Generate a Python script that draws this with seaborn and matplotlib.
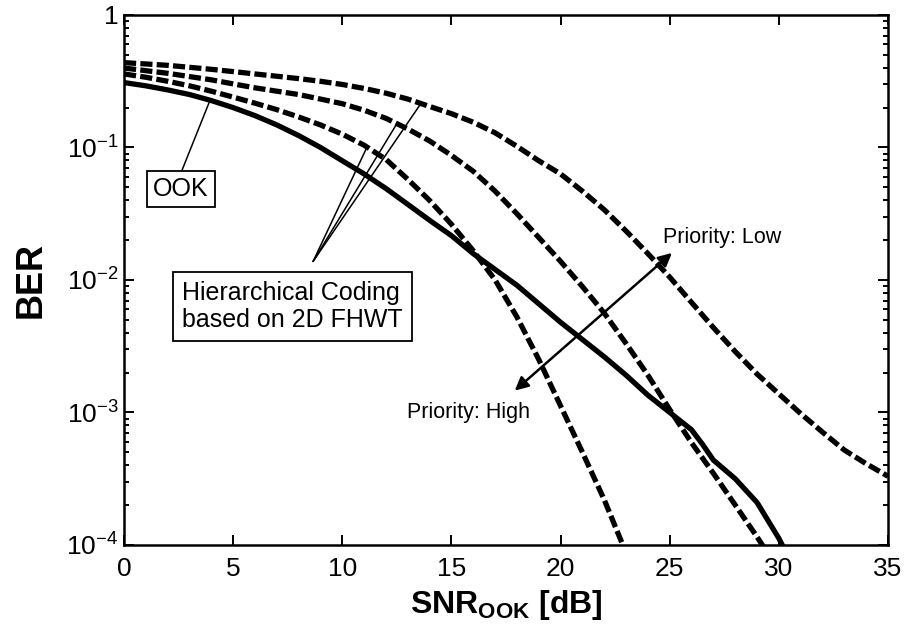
import numpy as np
import pandas as pd
import matplotlib
matplotlib.use("Agg")
import matplotlib.pyplot as plt
import seaborn as sns
from matplotlib.ticker import LogLocator, NullLocator

# ---- data: BER versus SNR_OOK ----
# uncoded OOK (solid)
ook_snr = [0, 1, 2, 3, 4, 5, 6, 7, 8, 9, 10, 11, 12, 13, 14, 15, 16, 17, 18,
           19, 20, 21, 22, 23, 24, 25, 26, 26.5, 27, 28, 29, 30, 30.4]
ook_ber = [0.309, 0.292, 0.272, 0.251, 0.226, 0.200, 0.174, 0.148, 0.123,
           0.100, 0.0794, 0.0631, 0.0490, 0.0372, 0.0282, 0.0216, 0.0158,
           0.0120, 0.00912, 0.00661, 0.00479, 0.00355, 0.00263, 0.00191,
           0.00135, 0.00100, 7.4e-4, 5.75e-4, 4.37e-4, 3.16e-4, 2.09e-4,
           1.12e-4, 8.3e-5]

# hierarchical coding, high priority layer
high_snr = [0, 1, 2, 3, 4, 5, 6, 7, 8, 9, 10, 11, 12, 13, 14, 15, 16, 17, 18,
            19, 20, 21, 22, 22.5, 23]
high_ber = [0.359, 0.339, 0.316, 0.292, 0.266, 0.240, 0.216, 0.193, 0.170,
            0.148, 0.126, 0.104, 0.0813, 0.0575, 0.0398, 0.0263, 0.0166,
            0.0100, 0.00525, 0.00251, 0.00112, 5.0e-4, 2.19e-4, 1.38e-4,
            8.7e-5]

# hierarchical coding, middle priority layer
mid_snr = [0, 1, 2, 3, 4, 5, 6, 7, 8, 9, 10, 11, 12, 13, 14, 15, 16, 17, 18,
           19, 20, 21, 22, 23, 24, 25, 26, 27, 28, 29, 29.4]
mid_ber = [0.398, 0.380, 0.363, 0.343, 0.324, 0.302, 0.282, 0.266, 0.251,
           0.232, 0.214, 0.191, 0.166, 0.138, 0.112, 0.0871, 0.0661, 0.0468,
           0.0316, 0.0209, 0.0138, 0.00891, 0.00562, 0.00331, 0.00191,
           0.00105, 5.9e-4, 3.47e-4, 2.0e-4, 1.15e-4, 9.1e-5]

# hierarchical coding, low priority layer
low_snr = [0, 1, 2, 3, 4, 5, 6, 7, 8, 9, 10, 11, 12, 13, 14, 15, 16, 17, 18,
           19, 20, 21, 22, 23, 24, 25, 26, 27, 28, 29, 30, 31, 32, 33, 34, 35]
low_ber = [0.437, 0.427, 0.417, 0.403, 0.389, 0.374, 0.359, 0.345, 0.331,
           0.316, 0.299, 0.279, 0.257, 0.232, 0.204, 0.180, 0.155, 0.129,
           0.102, 0.0794, 0.0631, 0.0468, 0.0339, 0.0234, 0.0158, 0.0105,
           0.00676, 0.00437, 0.00288, 0.00195, 0.00138, 9.8e-4, 7.1e-4,
           5.2e-4, 4.1e-4, 3.3e-4]

x_ticks = [0, 5, 10, 15, 20, 25, 30, 35]
y_ticks = [1e-4, 1e-3, 1e-2, 1e-1, 1]
y_tick_labels = [r"$10^{-4}$", r"$10^{-3}$", r"$10^{-2}$", r"$10^{-1}$", "1"]

sns.set_style("ticks")
plt.rcParams.update({
    "font.family": ["Liberation Sans", "DejaVu Sans"],
    "mathtext.fontset": "custom",
    "mathtext.rm": "Liberation Sans",
    "mathtext.it": "Liberation Sans:italic",
    "mathtext.bf": "Liberation Sans:bold",
    "mathtext.sf": "Liberation Sans",
    "axes.linewidth": 1.8,
    "axes.edgecolor": "black",
    "text.color": "black",
    "axes.labelcolor": "black",
    "xtick.color": "black",
    "ytick.color": "black",
})

fig = plt.figure(figsize=(9.10, 6.41), dpi=100)
ax = fig.add_axes([0.1363, 0.1498, 0.8396, 0.8268])

LW = 3.8
dash = (0, (2.3, 0.8))

curves = [
    ("OOK", ook_snr, ook_ber, "-"),
    ("High", high_snr, high_ber, dash),
    ("Mid", mid_snr, mid_ber, dash),
    ("Low", low_snr, low_ber, dash),
]
for name, xs, ys, ls in curves:
    df = pd.DataFrame({"snr": xs, "ber": ys})
    sns.lineplot(data=df, x="snr", y="ber", ax=ax, color="black", lw=LW,
                 linestyle=ls, estimator=None, sort=False, zorder=2,
                 solid_capstyle="butt", dash_capstyle="butt",
                 solid_joinstyle="round")

ax.set_yscale("log")
ax.set_xlim(0, 35)
ax.set_ylim(1e-4, 1)
ax.set_xticks(x_ticks)
ax.set_yticks(y_ticks, y_tick_labels)
ax.yaxis.set_minor_locator(LogLocator(base=10, subs=np.arange(2, 10)))
ax.xaxis.set_minor_locator(NullLocator())
ax.tick_params(which="both", direction="in", top=True, right=True,
               width=1.4, colors="black")
ax.tick_params(which="major", length=7, labelsize=19)
ax.tick_params(which="minor", length=3.5)
ax.tick_params(axis="x", pad=9)
ax.tick_params(axis="y", pad=4)
for s in ax.spines.values():
    s.set_visible(True)
    s.set_linewidth(1.8)

ax.set_xlabel(r"SNR$_{\mathbf{OOK}}$ [dB]", fontsize=23, fontweight="bold",
              labelpad=5)
ax.set_ylabel("BER", fontsize=26, fontweight="bold", labelpad=13)


def on_curve(xs, ys, x):
    return 10 ** np.interp(x, xs, np.log10(ys))


# leader line for the OOK label
ook_anchor = (2.66, 10 ** -1.17)
ax.plot([ook_anchor[0], 3.94], [ook_anchor[1], on_curve(ook_snr, ook_ber, 3.94)],
        color="black", lw=1.1, zorder=3)

# leader lines for the hierarchical coding label
hub = (8.66, 10 ** -1.86)
for xs, ys, xp in [(high_snr, high_ber, 11.13), (mid_snr, mid_ber, 12.5),
                   (low_snr, low_ber, 13.6)]:
    ax.plot([hub[0], xp], [hub[1], on_curve(xs, ys, xp)], color="black",
            lw=1.1, zorder=3)

box = dict(boxstyle="square,pad=0.25", fc="white", ec="black", lw=1.3)
ax.text(2.61, 10 ** -1.313, "OOK", ha="center", va="center", fontsize=18,
        bbox=box, zorder=4)
box2 = dict(boxstyle="square,pad=0.35", fc="white", ec="black", lw=1.3)
ax.text(2.66, 10 ** -2.20, "Hierarchical Coding\nbased on 2D FHWT",
        ha="left", va="center", fontsize=18, linespacing=1.15, bbox=box2,
        zorder=4)

# priority direction arrow
ax.annotate("", xy=(25.1, 10 ** -1.796), xytext=(17.9, 10 ** -2.835),
            arrowprops=dict(arrowstyle="<|-|>", lw=1.8, color="black",
                            mutation_scale=20, shrinkA=0, shrinkB=0),
            zorder=3)
ax.text(24.69, 10 ** -1.68, "Priority: Low", fontsize=15.5, ha="left",
        va="center")
ax.text(12.96, 10 ** -3.0, "Priority: High", fontsize=15.5, ha="left",
        va="center")

fig.savefig("out.png", dpi=100)
